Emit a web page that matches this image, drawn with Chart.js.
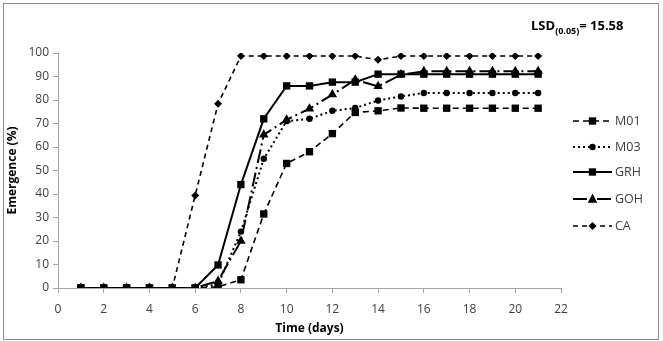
<!DOCTYPE html>
<html>
<head>
<meta charset="utf-8">
<script src="https://cdn.jsdelivr.net/npm/chart.js@4/dist/chart.umd.min.js"></script>
<style>
  html, body { margin: 0; padding: 0; background: #ffffff; }
  #wrap { width: 663px; height: 341px; position: relative; }
</style>
</head>
<body>
<div id="wrap"><canvas id="c" width="663" height="341"></canvas></div>
<script>
const days = [1,2,3,4,5,6,7,8,9,10,11,12,13,14,15,16,17,18,19,20,21];
const seriesLabels = ['M01','M03','GRH','GOH','CA'];
const M01 = [0,0,0,0,0,0,0.5,3.5,31.5,53,58,65.7,74.7,75.4,76.6,76.5,76.5,76.5,76.5,76.5,76.5];
const M03 = [0,0,0,0,0,0,1.5,24,55,71,72,75.4,76.6,79.8,81.5,83,83,83,83,83,83];
const GRH = [0,0,0,0,0,0,9.8,44,72,86,86,87.6,87.6,91,91,91,91,91,91,91,91];
const GOH = [0,0,0,0,0,0,3,20,65.2,71.6,76.3,82.3,88.6,85.8,90.8,92.2,92.2,92.2,92.2,92.2,92.2];
const CA  = [0,0,0,0,0,39.4,78.4,98.7,98.7,98.7,98.7,98.7,98.7,97.1,98.7,98.7,98.7,98.7,98.7,98.7,98.7];
const xTicks = [0,2,4,6,8,10,12,14,16,18,20,22];
const yTicks = [0,10,20,30,40,50,60,70,80,90,100];
const lsdLabel = 'LSD';
const lsdSub = '(0.05)';
const lsdValue = '= 15.58';
const xTitle = 'Time (days)';
const yTitle = 'Emergence (%)';

const FONT = "'Open Sans', 'Liberation Sans', sans-serif";

function pts(arr) { return days.map((d, i) => ({ x: d, y: arr[i] })); }

const styles = [
  { data: M01, dash: [6,4], width: 1.6, pointStyle: 'rect', radius: 5.2 },
  { data: M03, dash: [2,3], width: 2, pointStyle: 'circle', radius: 3.2 },
  { data: GRH, dash: [], width: 2, pointStyle: 'rect', radius: 5.2 },
  { data: GOH, dash: [14,4,2,4], width: 2, pointStyle: 'triangle', radius: 5.5 },
  { data: CA,  dash: [5,4], width: 1.6, pointStyle: 'rectRot', radius: 4 }
];

const datasets = styles.map((s, i) => ({
  label: seriesLabels[i],
  data: pts(s.data),
  borderColor: '#000000',
  backgroundColor: '#000000',
  borderWidth: s.width,
  borderDash: s.dash,
  pointStyle: s.pointStyle,
  pointRadius: s.radius,
  pointHoverRadius: s.radius,
  pointBackgroundColor: '#000000',
  pointBorderColor: '#000000',
  pointBorderWidth: 0,
  tension: 0,
  fill: false
}));

function drawMarker(ctx, style, x, y, r) {
  ctx.save();
  ctx.fillStyle = '#000';
  ctx.setLineDash([]);
  ctx.beginPath();
  if (style === 'rect') {
    const s = Math.SQRT1_2 * r;
    ctx.rect(x - s, y - s, 2 * s, 2 * s);
  } else if (style === 'circle') {
    ctx.arc(x, y, r, 0, Math.PI * 2);
  } else if (style === 'triangle') {
    ctx.moveTo(x, y - r);
    ctx.lineTo(x + r * 0.866, y + r * 0.5 + 1);
    ctx.lineTo(x - r * 0.866, y + r * 0.5 + 1);
    ctx.closePath();
  } else if (style === 'rectRot') {
    ctx.moveTo(x, y - r);
    ctx.lineTo(x + r, y);
    ctx.lineTo(x, y + r);
    ctx.lineTo(x - r, y);
    ctx.closePath();
  }
  ctx.fill();
  ctx.restore();
}

const decor = {
  id: 'decor',
  beforeDraw(chart) {
    const ctx = chart.ctx;
    ctx.save();
    ctx.fillStyle = '#ffffff';
    ctx.fillRect(0, 0, chart.width, chart.height);
    ctx.restore();
  },
  afterDraw(chart) {
    const ctx = chart.ctx;
    ctx.save();
    // outer border
    ctx.strokeStyle = '#8c8c8c';
    ctx.lineWidth = 1;
    ctx.strokeRect(3.5, 3.5, 655, 336);
    // legend
    const legendY = [121, 147, 172, 199, 226];
    chart.data.datasets.forEach((ds, i) => {
      const y = legendY[i];
      ctx.save();
      ctx.strokeStyle = '#000';
      ctx.lineWidth = ds.borderWidth;
      ctx.setLineDash(ds.borderDash);
      ctx.beginPath();
      ctx.moveTo(573, y);
      ctx.lineTo(612, y);
      ctx.stroke();
      ctx.restore();
      drawMarker(ctx, ds.pointStyle, 592.5, y, ds.pointRadius);
      ctx.fillStyle = '#404040';
      ctx.font = '12.5px ' + FONT;
      ctx.textBaseline = 'middle';
      ctx.textAlign = 'left';
      ctx.fillText(ds.label, 615, y);
    });
    // LSD annotation
    ctx.fillStyle = '#000';
    ctx.textBaseline = 'alphabetic';
    ctx.textAlign = 'left';
    let x = 531;
    ctx.font = 'bold 13px ' + FONT;
    ctx.fillText(lsdLabel, x, 29.5);
    x += ctx.measureText(lsdLabel).width;
    ctx.font = 'bold 9px ' + FONT;
    ctx.fillText(lsdSub, x, 34);
    x += ctx.measureText(lsdSub).width;
    ctx.font = 'bold 13px ' + FONT;
    ctx.fillText(lsdValue, x, 29.5);
    ctx.restore();
  }
};

new Chart(document.getElementById('c'), {
  type: 'line',
  data: { datasets },
  options: {
    responsive: false,
    animation: false,
    events: [],
    layout: { padding: { left: 0, top: 53, right: 102, bottom: 0 } },
    plugins: { legend: { display: false }, tooltip: { enabled: false } },
    scales: {
      x: {
        type: 'linear',
        min: 0, max: 22,
        afterBuildTicks(scale) { scale.ticks = xTicks.map(v => ({ value: v })); },
        afterFit(scale) { scale.height = 53; },
        ticks: { color: '#404040', font: { size: 12, family: FONT }, padding: 9, maxRotation: 0 },
        grid: { drawOnChartArea: false, color: '#a6a6a6', tickLength: 5, tickColor: '#a6a6a6' },
        border: { color: '#a6a6a6', width: 1 },
        title: { display: true, text: xTitle, color: '#000', font: { size: 12, weight: 'bold', family: FONT }, padding: { top: 2, bottom: 5 } }
      },
      y: {
        min: 0, max: 100,
        afterBuildTicks(scale) { scale.ticks = yTicks.map(v => ({ value: v })); },
        afterFit(scale) { scale.width = 58; },
        ticks: { color: '#404040', font: { size: 12, family: FONT }, padding: 4 },
        grid: { drawOnChartArea: false, color: '#a6a6a6', tickLength: 5, tickColor: '#a6a6a6' },
        border: { color: '#a6a6a6', width: 1 },
        title: { display: true, text: yTitle, color: '#000', font: { size: 12, weight: 'bold', family: FONT }, padding: { top: 5, bottom: 0 } }
      }
    }
  },
  plugins: [decor]
});
</script>
</body>
</html>
